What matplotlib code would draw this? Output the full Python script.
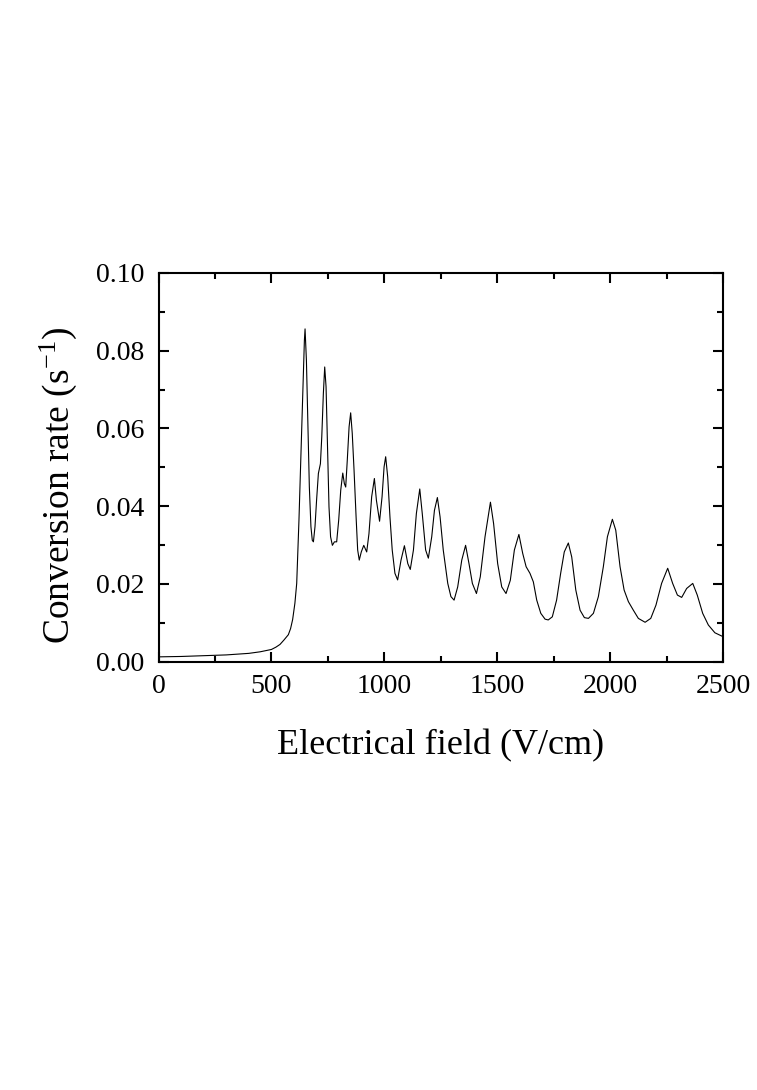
import matplotlib
matplotlib.use('Agg')
import matplotlib.pyplot as plt
from matplotlib.ticker import MultipleLocator

plt.rcParams['font.family'] = ['Liberation Serif', 'DejaVu Serif']
plt.rcParams['mathtext.fontset'] = 'custom'
plt.rcParams['mathtext.rm'] = 'Liberation Serif'
plt.rcParams['mathtext.it'] = 'Liberation Serif:italic'

# values (V/cm, 1/s)
field = [0, 100, 200, 300, 400, 450, 500, 520, 538, 555, 575, 585, 594, 604, 612,
         622, 631, 640, 646, 649, 655, 661, 668, 675, 681, 686, 693, 700, 708, 717,
         723, 730, 736, 742, 748, 755, 762, 770, 779, 789, 798, 807, 816, 823, 829,
         836, 844, 851, 858, 866, 875, 882, 889, 898, 909, 922, 932, 944, 956, 965,
         979, 990, 999, 1006, 1015, 1025, 1035, 1047, 1059, 1074, 1089, 1104, 1115,
         1129, 1142, 1157, 1168, 1183, 1195, 1210, 1222, 1235, 1247, 1261, 1281, 1295,
         1309, 1325, 1343, 1360, 1375, 1390, 1408, 1425, 1446, 1470, 1484, 1502, 1520,
         1539, 1558, 1576, 1596, 1613, 1628, 1645, 1660, 1675, 1693, 1712, 1726, 1744,
         1763, 1781, 1797, 1815, 1830, 1848, 1867, 1886, 1904, 1926, 1948, 1970, 1988,
         2010, 2025, 2044, 2062, 2081, 2103, 2125, 2155, 2180, 2203, 2228, 2255, 2277,
         2298, 2317, 2339, 2366, 2386, 2410, 2435, 2464, 2500]
rate = [0.0012, 0.0013, 0.0015, 0.0017, 0.0021, 0.0025, 0.0031, 0.0037, 0.0044, 0.0055,
        0.0069, 0.0085, 0.0108, 0.0150, 0.0201, 0.0364, 0.0535, 0.0707, 0.0826, 0.0856,
        0.0775, 0.0621, 0.0449, 0.0347, 0.0312, 0.0308, 0.0347, 0.0415, 0.0484, 0.0509,
        0.0578, 0.0689, 0.0758, 0.0707, 0.0561, 0.0398, 0.0321, 0.0299, 0.0308, 0.0308,
        0.0364, 0.0441, 0.0485, 0.0458, 0.0449, 0.0518, 0.0604, 0.0640, 0.0587, 0.0492,
        0.0372, 0.0287, 0.0261, 0.0282, 0.0299, 0.0282, 0.0329, 0.0424, 0.0471, 0.0415,
        0.0361, 0.0424, 0.0501, 0.0527, 0.0475, 0.0372, 0.0287, 0.0227, 0.0210, 0.0261,
        0.0298, 0.0252, 0.0237, 0.0287, 0.0381, 0.0444, 0.0381, 0.0287, 0.0266, 0.0321,
        0.0389, 0.0422, 0.0372, 0.0287, 0.0201, 0.0167, 0.0158, 0.0192, 0.0261, 0.0299,
        0.0252, 0.0201, 0.0175, 0.0218, 0.0321, 0.0410, 0.0355, 0.0252, 0.0192, 0.0175,
        0.0209, 0.0287, 0.0327, 0.0278, 0.0244, 0.0227, 0.0205, 0.0158, 0.0124, 0.0109,
        0.0107, 0.0115, 0.0158, 0.0227, 0.0282, 0.0305, 0.0269, 0.0184, 0.0132, 0.0113,
        0.0111, 0.0124, 0.0167, 0.0244, 0.0321, 0.0366, 0.0338, 0.0244, 0.0184, 0.0154,
        0.0132, 0.0111, 0.0101, 0.0111, 0.0145, 0.0201, 0.0240, 0.0201, 0.0171, 0.0165,
        0.0188, 0.0201, 0.0171, 0.0124, 0.0094, 0.0074, 0.0064]

fig = plt.figure(figsize=(7.57, 10.9), dpi=100)
ax = fig.add_axes([0.2094, 0.3931, 0.7457, 0.3565])
ax.plot(field, rate, color='black', lw=0.8)

ax.set_xlim(0, 2500)
ax.set_ylim(0, 0.10)
ax.xaxis.set_major_locator(MultipleLocator(500))
ax.xaxis.set_minor_locator(MultipleLocator(250))
ax.yaxis.set_major_locator(MultipleLocator(0.02))
ax.yaxis.set_minor_locator(MultipleLocator(0.01))
ax.yaxis.set_major_formatter(lambda v, p: f'{v:.2f}')
ax.tick_params(which='both', direction='in', top=True, right=True, width=1.5, labelsize=20)
ax.tick_params(which='major', length=7.5)
ax.tick_params(which='minor', length=4)
ax.tick_params(axis='x', pad=9)
ax.tick_params(axis='y', pad=10)
for s in ax.spines.values():
    s.set_linewidth(1.5)

ax.set_xlabel('Electrical field (V/cm)', fontsize=26, labelpad=22)
ax.set_ylabel('Conversion rate (s$^{-1}$)', fontsize=27)
ax.yaxis.set_label_coords(-0.140, 0.454)

fig.savefig('out.png', dpi=100)
